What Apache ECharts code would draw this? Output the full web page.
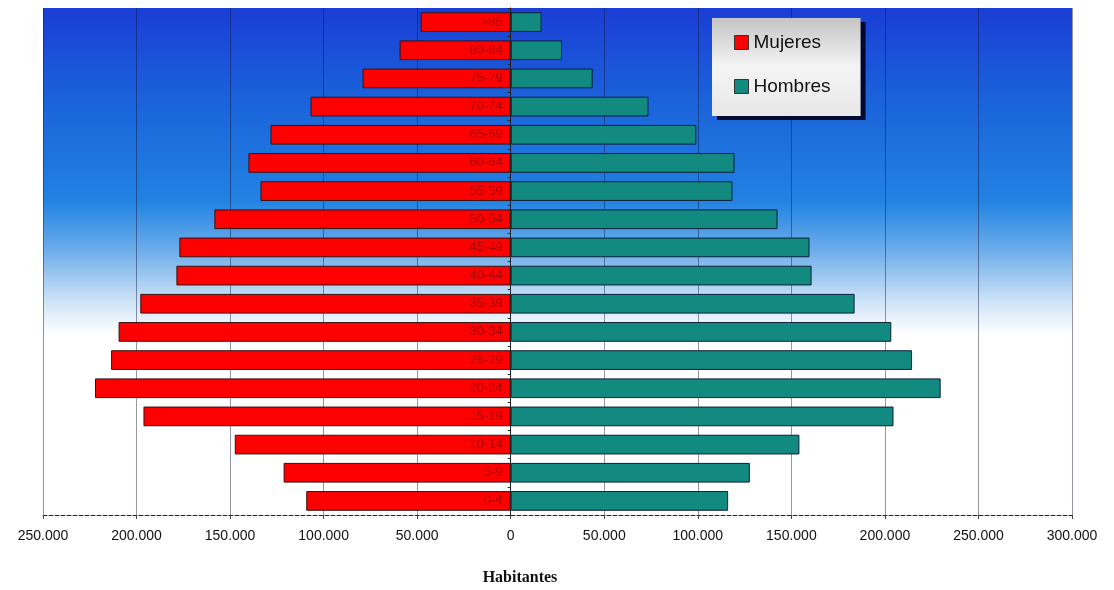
<!DOCTYPE html>
<html>
<head>
<meta charset="utf-8">
<script src="https://cdn.jsdelivr.net/npm/echarts@6/dist/echarts.min.js"></script>
<style>html,body{margin:0;padding:0;background:#fff}#c{width:1114px;height:590px}</style>
</head>
<body>
<div id="c"></div>
<script>
const ageGroups = ['0-4','5-9','10-14','15-19','20-24','25-29','30-34','35-39','40-44','45-49','50-54','55-59','60-64','65-69','70-74','75-79','80-84','>85'];
const mujeres = [109300,121400,147500,196300,222200,213600,209600,198000,178700,177100,158400,133750,140200,128400,107000,79200,59400,48150];
const hombres = [116200,127800,154300,204600,229800,214500,203400,183800,160800,159700,142600,118500,119600,99200,73600,43800,27400,16500];
const xMin = -250000, xMax = 300000, xStep = 50000;
const axisTitle = 'Habitantes';

function fmt(v){
  const a = Math.abs(v);
  return a.toString().replace(/\B(?=(\d{3})+(?!\d))/g,'.');
}

const chart = echarts.init(document.getElementById('c'));
chart.setOption({
  animation:false,
  backgroundColor:'#ffffff',
  grid:{
    left:43, right:42, top:8, bottom:75,
    show:true,
    borderWidth:0,
    backgroundColor:new echarts.graphic.LinearGradient(0,0,0,1,[
      {offset:0,color:'#1a3ed6'},
      {offset:0.18,color:'#1a62da'},
      {offset:0.38,color:'#2282e2'},
      {offset:0.48,color:'#6eaeea'},
      {offset:0.58,color:'#cfe4f7'},
      {offset:0.645,color:'#ffffff'},
      {offset:1,color:'#ffffff'}
    ])
  },
  title:{
    text:axisTitle,
    left:515, top:565,
    textAlign:'center',
    textStyle:{fontFamily:'Liberation Serif, Times New Roman', fontWeight:'bold', fontSize:16, color:'#111'}
  },
  legend:{
    orient:'vertical',
    left:712, top:18,
    width:158,
    padding:[15,30,20,22],
    itemGap:25,
    itemWidth:14, itemHeight:14,
    icon:'rect',
    backgroundColor:new echarts.graphic.LinearGradient(0,0,0,1,[
      {offset:0,color:'#c4c4c4'},
      {offset:0.5,color:'#f4f4f4'},
      {offset:1,color:'#e8e8e8'}
    ]),
    borderWidth:0,
    shadowColor:'rgba(0,0,30,0.9)', shadowBlur:0, shadowOffsetX:5, shadowOffsetY:4,
    textStyle:{fontFamily:'Liberation Sans, Arial', fontSize:19, color:'#111'},
    itemStyle:{borderColor:'#333', borderWidth:1},
    data:['Mujeres','Hombres']
  },
  xAxis:{
    type:'value',
    min:xMin, max:xMax, interval:xStep,
    axisLine:{show:true, lineStyle:{color:'#222', type:'dashed', width:1}},
    axisTick:{show:true, length:4, lineStyle:{color:'#444'}},
    axisLabel:{formatter:fmt, fontFamily:'Liberation Sans, Arial', fontSize:14, color:'#111', margin:14},
    splitLine:{show:true, lineStyle:{color:'rgba(20,20,60,0.45)', width:1}}
  },
  yAxis:{
    type:'category',
    data:ageGroups,
    z:10,
    axisLine:{show:true, onZero:true, lineStyle:{color:'#222'}},
    axisTick:{show:true, length:3, lineStyle:{color:'#222'}},
    axisLabel:{show:false},
    splitLine:{show:false}
  },
  series:[
    {
      name:'Mujeres', type:'bar', stack:'pop',
      barWidth:'70%',
      itemStyle:{color:'#ff0000', borderColor:'#3a1010', borderWidth:1},
      label:{show:true, position:'insideRight', distance:8, formatter:'{b}', color:'#a80000', fontFamily:'Liberation Sans, Arial', fontSize:13},
      data:mujeres.map(v=>-v)
    },
    {
      name:'Hombres', type:'bar', stack:'pop',
      barWidth:'70%',
      itemStyle:{color:'#138a80', borderColor:'#0c1f3a', borderWidth:1},
      data:hombres
    }
  ]
});
</script>
</body>
</html>
